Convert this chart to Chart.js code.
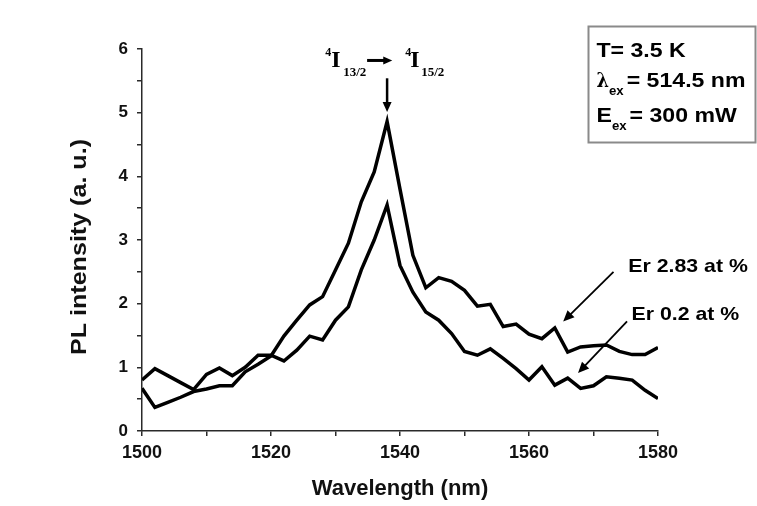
<!DOCTYPE html>
<html>
<head>
<meta charset="utf-8">
<script src="https://cdn.jsdelivr.net/npm/chart.js@4.4.1/dist/chart.umd.min.js"></script>
<style>
html,body{margin:0;padding:0;background:#fff;}
#wrap{width:757px;height:506px;position:relative;}
</style>
</head>
<body>
<div id="wrap"><canvas id="c" width="757" height="506"></canvas></div>
<script>
// ---- data ----
const wavelengths = [1500,1502,1504,1506,1508,1510,1512,1514,1516,1518,1520,1522,1524,1526,1528,1530,1532,1534,1536,1538,1540,1542,1544,1546,1548,1550,1552,1554,1556,1558,1560,1562,1564,1566,1568,1570,1572,1574,1576,1578,1580];
const er283 = [0.67,0.37,0.45,0.53,0.62,0.66,0.71,0.71,0.93,1.05,1.18,1.49,1.74,1.98,2.11,2.53,2.95,3.60,4.07,4.86,3.80,2.76,2.25,2.41,2.35,2.21,1.96,1.99,1.64,1.68,1.52,1.45,1.62,1.24,1.32,1.34,1.35,1.25,1.20,1.20,1.31];
const er02  = [0.80,0.98,0.87,0.76,0.65,0.89,0.99,0.87,1.00,1.19,1.19,1.10,1.27,1.49,1.43,1.74,1.95,2.53,3.00,3.55,2.60,2.18,1.87,1.74,1.53,1.25,1.19,1.29,1.14,0.98,0.80,1.01,0.72,0.83,0.67,0.71,0.85,0.83,0.80,0.64,0.51];
const seriesNames = ['Er 2.83 at %','Er 0.2 at %'];
const xTickLabels = [1500,1520,1540,1560,1580];
const yTickLabels = [0,1,2,3,4,5,6];
const xTitle = 'Wavelength (nm)';
const yTitle = 'PL intensity (a. u.)';
const infoLines = [['T= 3.5 K','',''],['λ','ex','= 514.5 nm'],['E','ex','= 300 mW']];

const pts = ys => wavelengths.map((w,i)=>({x:w,y:ys[i]}));

const axisColor = '#2a2a2a';
const sansBold = (s)=>'bold '+s+'px "Liberation Sans", Arial, sans-serif';

function arrow(ctx, x1, y1, x2, y2, head, width){
  const a = Math.atan2(y2-y1, x2-x1);
  ctx.save();
  ctx.strokeStyle='#000'; ctx.fillStyle='#000'; ctx.lineWidth=width;
  ctx.beginPath();
  ctx.moveTo(x1,y1);
  ctx.lineTo(x2-Math.cos(a)*head*0.8, y2-Math.sin(a)*head*0.8);
  ctx.stroke();
  ctx.beginPath();
  ctx.moveTo(x2,y2);
  ctx.lineTo(x2-head*Math.cos(a)+head*0.45*Math.sin(a), y2-head*Math.sin(a)-head*0.45*Math.cos(a));
  ctx.lineTo(x2-head*Math.cos(a)-head*0.45*Math.sin(a), y2-head*Math.sin(a)+head*0.45*Math.cos(a));
  ctx.closePath(); ctx.fill();
  ctx.restore();
}

function stretchText(ctx, txt, x, y, sx){
  ctx.save();
  ctx.translate(x,y); ctx.scale(sx,1);
  ctx.fillText(txt,0,0);
  ctx.restore();
  return ctx.measureText(txt).width*sx;
}

const annot = {
  id:'annot',
  afterDraw(chart){
    const ctx = chart.ctx;
    const xs = chart.scales.x, ys = chart.scales.y;
    const X = v=>xs.getPixelForValue(v), Y = v=>ys.getPixelForValue(v);
    ctx.save();
    ctx.fillStyle='#000';
    ctx.textBaseline='alphabetic';
    // y axis title (stretched along its length like the reference)
    ctx.save();
    ctx.fillStyle='#111';
    ctx.font = sansBold(22);
    ctx.translate(80, (chart.chartArea.top+chart.chartArea.bottom)/2 + 7);
    ctx.rotate(-Math.PI/2);
    ctx.scale(1.14,1);
    ctx.textAlign='center'; ctx.textBaseline='middle';
    ctx.fillText(yTitle,0,0);
    ctx.restore();
    // transition label
    const serif = (w,s)=>w+' '+s+'px "Liberation Serif", "Times New Roman", serif';
    let x0 = X(1528.4), yb = Y(5.72);
    ctx.font = serif('bold',12); ctx.fillText('4', x0, yb-11);
    ctx.font = serif('bold',24); ctx.fillText('I', x0+6, yb);
    ctx.font = serif('bold',13); ctx.fillText('13/2', x0+18, yb+9);
    arrow(ctx, X(1534.9), Y(5.82), X(1538.8), Y(5.82), 9, 3);
    let x1 = X(1540.8);
    ctx.font = serif('bold',12); ctx.fillText('4', x1, yb-11);
    ctx.font = serif('bold',24); ctx.fillText('I', x1+5, yb);
    ctx.font = serif('bold',13); ctx.fillText('15/2', x1+16, yb+9);
    // down arrow to peak
    arrow(ctx, X(1538), Y(5.54), X(1538), Y(5.01), 10, 2.5);
    // series labels with arrows
    arrow(ctx, X(1573.1), Y(2.50), X(1565.3), Y(1.72), 11, 1.8);
    arrow(ctx, X(1575.2), Y(1.72), X(1567.6), Y(0.91), 11, 1.8);
    ctx.font = sansBold(19);
    stretchText(ctx, seriesNames[0], X(1575.4), Y(2.50), 1.12);
    stretchText(ctx, seriesNames[1], X(1575.9), Y(1.74), 1.12);
    // info box
    ctx.strokeStyle='#8a8a8a'; ctx.lineWidth=2;
    ctx.strokeRect(588.5, 26.5, 167, 116);
    const bases=[56.7, 86.7, 121.7];
    infoLines.forEach((ln,i)=>{
      let x = 596.5;
      if(ln[0]==='λ'){
        ctx.font = 'bold 21px "DejaVu Serif", "Liberation Serif", serif';
        x += stretchText(ctx, ln[0], x, bases[i], 0.85);
      } else {
        ctx.font = sansBold(21);
        x += stretchText(ctx, ln[0], x, bases[i], 1.1);
      }
      if(ln[1]){
        ctx.font = sansBold(12);
        x += stretchText(ctx, ln[1], x, bases[i]+8.5, 1.1)+3;
        ctx.font = sansBold(21);
        stretchText(ctx, ln[2], x, bases[i], 1.1);
      }
    });
    ctx.restore();
  }
};

new Chart(document.getElementById('c'), {
  type:'line',
  data:{
    datasets:[
      {label:seriesNames[0], data:pts(er283), borderColor:'#000', borderWidth:3.5, pointRadius:0, tension:0, fill:false},
      {label:seriesNames[1], data:pts(er02), borderColor:'#000', borderWidth:3.5, pointRadius:0, tension:0, fill:false}
    ]
  },
  options:{
    responsive:false, animation:false, devicePixelRatio:1,
    layout:{padding:{top:49,right:99,left:0,bottom:0}},
    plugins:{legend:{display:false}, tooltip:{enabled:false}},
    scales:{
      x:{
        type:'linear', min:1500, max:1580,
        afterFit(s){ s.height = 75; },
        border:{display:true,color:axisColor,width:1.5},
        grid:{display:true, drawOnChartArea:false, drawTicks:true, tickLength:5, color:axisColor, lineWidth:1.5},
        ticks:{stepSize:10, autoSkip:false, maxRotation:0, padding:6, color:'#111',
          font:{family:'"Liberation Sans", Arial, sans-serif', size:18, weight:'bold'},
          callback:v=> xTickLabels.includes(v) ? String(v) : ''},
        title:{display:true, text:xTitle, color:'#111', padding:{top:0,bottom:4},
          font:{family:'"Liberation Sans", Arial, sans-serif', size:22, weight:'bold'}}
      },
      y:{
        type:'linear', min:0, max:6,
        afterFit(s){ s.width = 142; },
        border:{display:true,color:axisColor,width:1.5},
        grid:{display:true, drawOnChartArea:false, drawTicks:true, tickLength:5, color:axisColor, lineWidth:1.5},
        ticks:{stepSize:0.5, autoSkip:false, padding:9, color:'#111',
          font:{family:'"Liberation Sans", Arial, sans-serif', size:17, weight:'bold'},
          callback:v=> yTickLabels.includes(v) ? String(v) : ''},
        title:{display:false, text:yTitle}
      }
    }
  },
  plugins:[annot]
});
</script>
</body>
</html>
